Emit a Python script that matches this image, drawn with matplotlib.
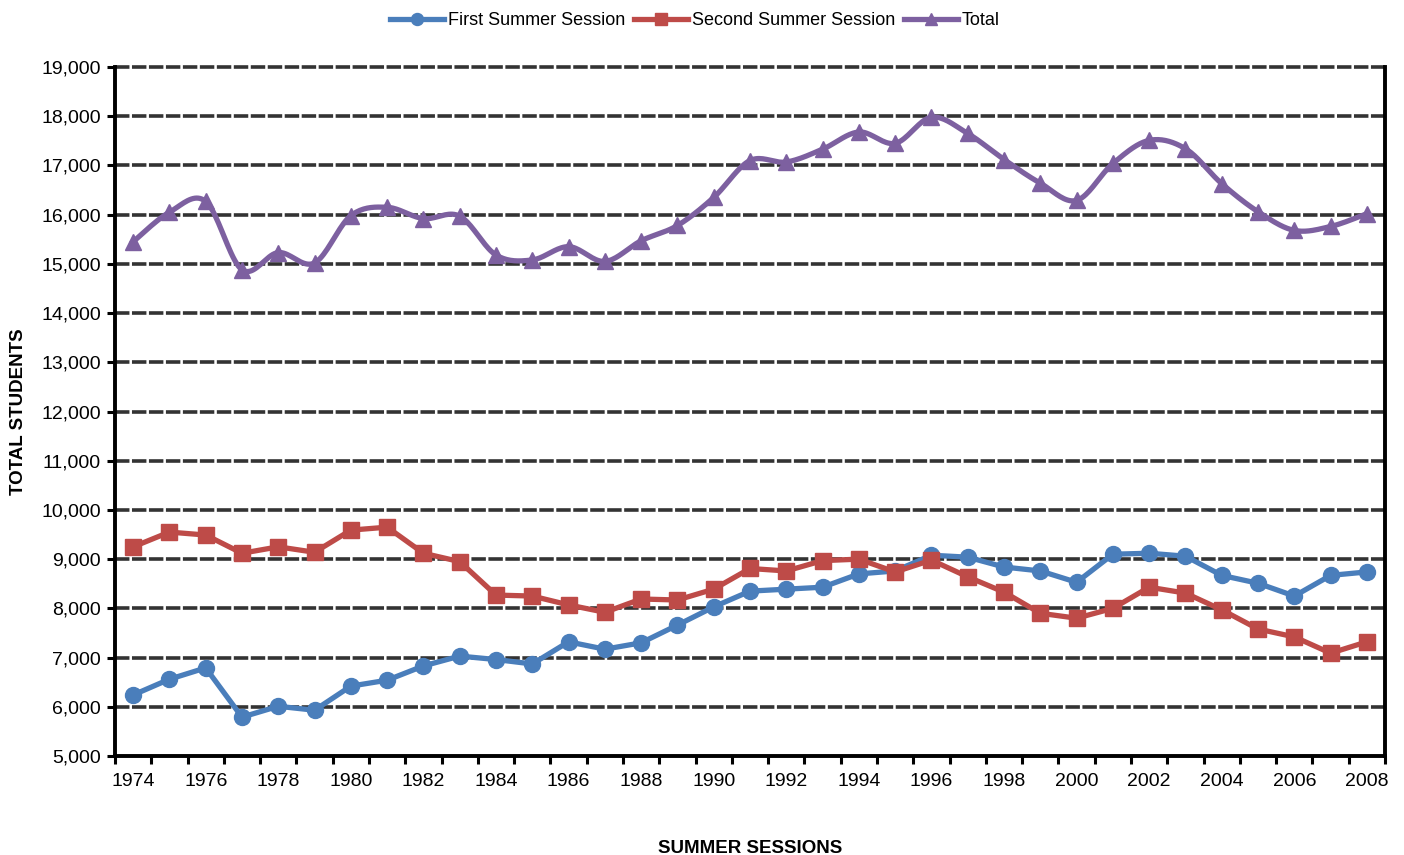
import numpy as np
import matplotlib
matplotlib.use("Agg")
import matplotlib.pyplot as plt

plt.rcParams['font.family'] = ['Liberation Sans', 'DejaVu Sans']

years = list(range(1974, 2009))
first_session = [6240, 6560, 6790, 5790, 6010, 5930, 6420, 6540, 6830, 7030,
                 6960, 6870, 7320, 7170, 7300, 7660, 8030, 8350, 8390, 8430,
                 8700, 8760, 9080, 9040, 8840, 8760, 8530, 9100, 9120, 9060,
                 8670, 8510, 8250, 8670, 8740]
second_session = [9250, 9550, 9490, 9120, 9250, 9140, 9590, 9650, 9120, 8950,
                  8270, 8250, 8070, 7920, 8190, 8170, 8390, 8810, 8760, 8970,
                  9000, 8740, 8980, 8640, 8330, 7900, 7800, 8000, 8430, 8310,
                  7970, 7580, 7420, 7090, 7320]
total = [15450, 16050, 16270, 14880, 15230, 15020, 15980, 16150, 15920, 15970,
         15180, 15080, 15350, 15050, 15470, 15780, 16350, 17100, 17070, 17330,
         17680, 17450, 17980, 17650, 17120, 16640, 16290, 17040, 17510, 17340,
         16630, 16060, 15680, 15760, 16020]

series_names = ["First Summer Session", "Second Summer Session", "Total"]
colors = ["#4A7EBB", "#BE4B48", "#7D60A0"]


def smooth(xs, ys, n=20, tension=0.5):
    xs = np.asarray(xs, float)
    ys = np.asarray(ys, float)
    px, py = [], []
    N = len(xs)
    for i in range(N - 1):
        p0 = (xs[max(i - 1, 0)], ys[max(i - 1, 0)])
        p1 = (xs[i], ys[i])
        p2 = (xs[i + 1], ys[i + 1])
        p3 = (xs[min(i + 2, N - 1)], ys[min(i + 2, N - 1)])
        c1 = (p1[0] + (p2[0] - p0[0]) * tension / 3, p1[1] + (p2[1] - p0[1]) * tension / 3)
        c2 = (p2[0] - (p3[0] - p1[0]) * tension / 3, p2[1] - (p3[1] - p1[1]) * tension / 3)
        t = np.linspace(0, 1, n, endpoint=(i == N - 2))
        bx = (1 - t) ** 3 * p1[0] + 3 * (1 - t) ** 2 * t * c1[0] + 3 * (1 - t) * t ** 2 * c2[0] + t ** 3 * p2[0]
        by = (1 - t) ** 3 * p1[1] + 3 * (1 - t) ** 2 * t * c1[1] + 3 * (1 - t) * t ** 2 * c2[1] + t ** 3 * p2[1]
        px.extend(bx)
        py.extend(by)
    return np.array(px), np.array(py)


fig = plt.figure(figsize=(14.04, 8.55), dpi=100)
ax = fig.add_axes([0.0819, 0.1158, 0.9046, 0.8058])

x = np.arange(len(years))

ax.set_ylim(5000, 19000)
ax.set_xlim(-0.5, len(years) - 0.5)
yt = np.arange(5000, 19001, 1000)
ax.set_yticks(yt)
ax.set_yticklabels([f"{v:,}" for v in yt], fontsize=14)
for v in yt[1:]:
    ax.axhline(v, color="#333333", lw=2.6, linestyle=(0, (4, 0.7)), zorder=1,
               clip_on=False)

ax.plot(x, first_session, color=colors[0], lw=3.8, marker="o", markersize=11.5,
        label=series_names[0], zorder=3)
ax.plot(x, second_session, color=colors[1], lw=3.8, marker="s", markersize=11,
        label=series_names[1], zorder=3)
sx, sy = smooth(x, total)
ax.plot(sx, sy, color=colors[2], lw=3.8, zorder=3)
ax.plot(x, total, color=colors[2], lw=0, marker="^", markersize=11.5, zorder=4)
ax.plot([], [], color=colors[2], lw=3.8, marker="^", markersize=11.5, label=series_names[2])

ax.set_xticks(np.arange(-0.5, len(years), 1))
ax.set_xticklabels([])
ax.set_xticks(x[::2], minor=True)
ax.set_xticklabels([str(y) for y in years[::2]], minor=True, fontsize=14)
ax.tick_params(axis="x", which="major", length=6, width=2.2, direction="out")
ax.tick_params(axis="x", which="minor", length=0, pad=12)
ax.tick_params(axis="y", length=6, width=2.2, direction="out", pad=4)

for s in ["left", "bottom", "right"]:
    ax.spines[s].set_linewidth(2.8)
    ax.spines[s].set_color("black")
ax.spines["top"].set_visible(False)

ax.set_ylabel("TOTAL STUDENTS", fontsize=13.5, fontweight="bold", labelpad=10)
ax.set_xlabel("SUMMER SESSIONS", fontsize=13.5, fontweight="bold", labelpad=36)

fig.legend(loc="upper center", bbox_to_anchor=(0.495, 1.005), ncol=3, frameon=False,
           fontsize=13, handlelength=3, handletextpad=0.2, columnspacing=0.5,
           markerscale=0.75)

fig.savefig("out.png", dpi=100)
